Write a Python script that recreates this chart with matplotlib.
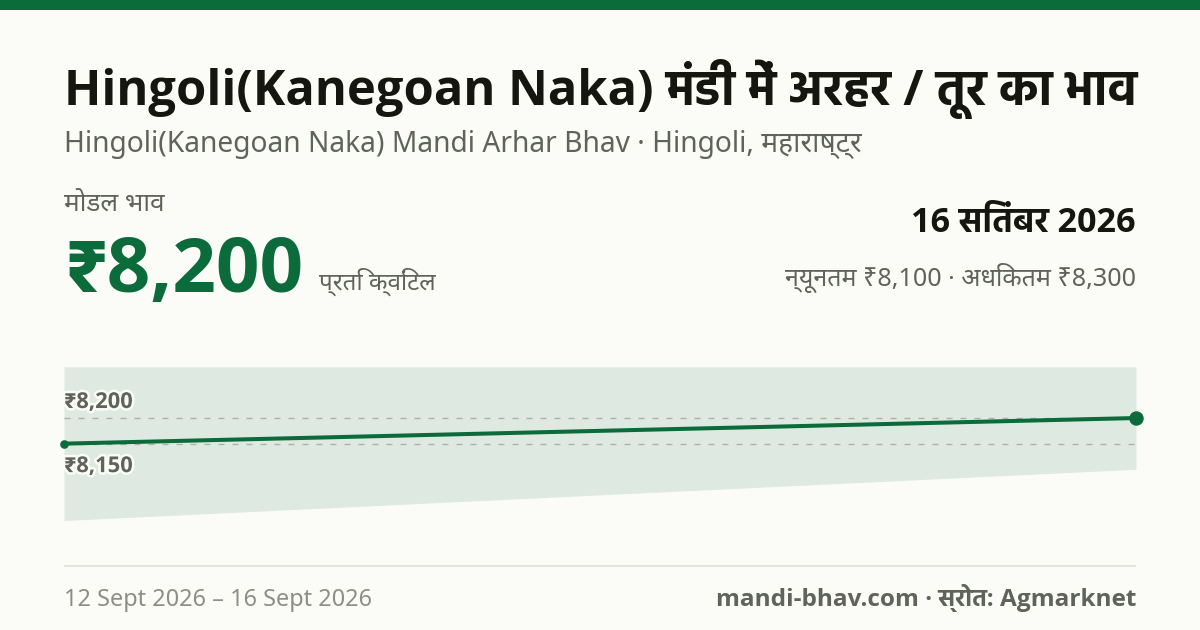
import matplotlib
matplotlib.use('Agg')
import matplotlib.pyplot as plt
import matplotlib.patheffects as pe
from matplotlib import font_manager as fm
from datetime import date

dates = [date(2026, 9, 12), date(2026, 9, 16)]
modal_prices = [8150, 8200]
min_prices = [8000, 8100]
max_prices = [8300, 8300]
guide_values = [8150, 8200]
guide_labels = ['₹8,150', '₹8,200']

TITLE = 'Hingoli(Kanegoan Naka) मंडी में अरहर / तूर का भाव'
SUBTITLE = 'Hingoli(Kanegoan Naka) Mandi Arhar Bhav · Hingoli, महाराष्ट्र'
MODAL = 'मोडल भाव'
PRICE = '₹8,200'
UNIT = 'प्रति क्विंटल'
DATE = '16 सितंबर 2026'
RANGE = 'न्यूनतम ₹8,100 · अधिकतम ₹8,300'
SPAN = '12 Sept 2026 – 16 Sept 2026'
SOURCE = 'mandi-bhav.com · स्रोत: Agmarknet'

BG = '#fbfcf8'
GREEN = '#0b6b3a'
INK = '#14160f'
MUTED = '#5f6358'
FAINT = '#8c8f86'

W, H = 1200, 630
REGULAR = ['Noto Sans', 'DejaVu Sans']
heavy = {f.name for f in fm.fontManager.ttflist if f.weight in (700, 'bold')}
BOLD = [n for n in ['Noto Sans', 'Open Sans', 'Noto Sans Devanagari', 'Hind'] if n in heavy] + REGULAR
plt.rcParams['font.family'] = REGULAR
fig = plt.figure(figsize=(W / 100, H / 100), dpi=100, facecolor=BG)
renderer = fig.canvas.get_renderer()

def px(s):
    return s * 0.72

def label(x, y, s, size, color, bold=False, ha='left', fit=None):
    t = fig.text(x / W, 1 - y / H, s, fontsize=px(size), color=color,
                 family=BOLD if bold else REGULAR, fontweight='bold' if bold else 'normal',
                 ha=ha, va='baseline')
    if fit:
        t.set_fontsize(t.get_fontsize() * fit / t.get_window_extent(renderer).width)
    return t

fig.patches.append(plt.Rectangle((0, 1 - 10 / H), 1, 10 / H, transform=fig.transFigure,
                                 facecolor=GREEN, edgecolor='none'))
fig.patches.append(plt.Rectangle((64 / W, 1 - 567 / H), 1072 / W, 2 / H, transform=fig.transFigure,
                                 facecolor='#e3e5dd', edgecolor='none'))

label(64, 105, TITLE, 46, INK, True, fit=1075)
label(64, 152, SUBTITLE, 28, MUTED, fit=797)
label(64, 211, MODAL, 24, MUTED, fit=100)
label(64, 292, PRICE, 76, GREEN, True, fit=239)
label(319, 290, UNIT, 25, MUTED, fit=117)
label(1136, 232, DATE, 32, INK, True, 'right', fit=224)
label(1136, 286, RANGE, 25, MUTED, ha='right', fit=352)
label(64, 606, SPAN, 23.5, FAINT, fit=308)
label(1136, 606, SOURCE, 24, MUTED, True, 'right', fit=420)

ax = fig.add_axes([64 / W, 1 - 520.5 / H, 1072 / W, 153.7 / H])
ax.set_facecolor('none')
ax.set_xlim(dates[0], dates[-1])
ax.set_ylim(8000, 8300)
ax.axis('off')

ax.fill_between(dates, min_prices, max_prices, color='#dee9e2', lw=0, zorder=1)
for v in guide_values:
    ax.axhline(v, color='#aeb3a8', lw=1.0, dashes=(4.32, 5.76), zorder=2)
ax.plot(dates, modal_prices, color=GREEN, lw=2.9, zorder=3, clip_on=False, solid_capstyle='round')
ax.plot(dates[0], modal_prices[0], 'o', color=GREEN, ms=6.2, mew=0, zorder=4, clip_on=False)
ax.plot(dates[-1], modal_prices[-1], 'o', color=GREEN, ms=10.4, mew=0, zorder=4, clip_on=False)

halo = [pe.withStroke(linewidth=3.6, foreground=BG)]
for v, s, dy in zip(guide_values, guide_labels, [-28.5, 10]):
    t = ax.annotate(s, xy=(dates[0], v), xytext=(0, px(dy)), textcoords='offset points',
                    fontsize=px(20), fontweight='bold', family=BOLD, color=MUTED, ha='left', va='baseline',
                    path_effects=halo, zorder=5, annotation_clip=False)
    t.set_fontsize(t.get_fontsize() * 69 / t.get_window_extent(renderer).width)

fig.savefig('out.png', dpi=100, facecolor=BG)
